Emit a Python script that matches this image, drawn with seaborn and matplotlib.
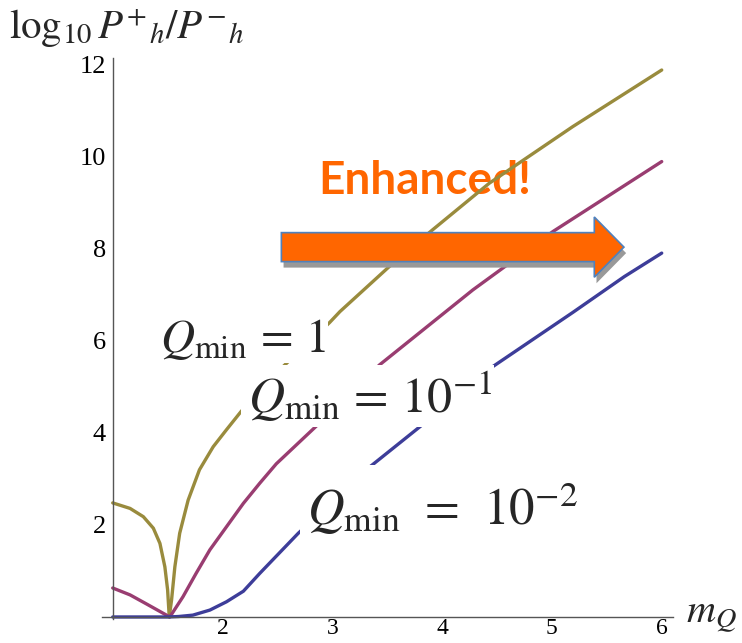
import numpy as np
import pandas as pd
import matplotlib
matplotlib.use("Agg")
import matplotlib.pyplot as plt
import seaborn as sns
from matplotlib.patches import FancyArrow, Rectangle
from matplotlib.ticker import MultipleLocator, FixedLocator

# ---- data ----
gold_x = [1.0, 1.158, 1.279, 1.37, 1.43, 1.475, 1.50, 1.515, 1.536, 1.566, 1.61, 1.687, 1.79, 1.915,
          2.036, 2.17, 2.55, 2.975, 3.07, 3.52, 3.91, 4.43, 5.19, 6.0]
gold_y = [2.48, 2.36, 2.18, 1.93, 1.60, 1.09, 0.59, 0.0, 0.37, 1.09, 1.82, 2.54, 3.20, 3.70,
          4.07, 4.47, 5.44, 6.40, 6.64, 7.62, 8.41, 9.43, 10.66, 11.89]

maroon_x = [1.0, 1.158, 1.31, 1.43, 1.52, 1.64, 1.76, 1.885, 2.036, 2.19, 2.34, 2.49, 2.85, 3.43,
            4.28, 5.01, 6.0]
maroon_y = [0.63, 0.48, 0.28, 0.12, 0.0, 0.44, 0.95, 1.46, 1.96, 2.47, 2.91, 3.33, 4.14, 5.48,
            7.11, 8.38, 9.90]

blue_x = [1.0, 1.3, 1.5, 1.6, 1.73, 1.885, 2.036, 2.19, 2.34, 2.69, 3.34, 3.80, 4.46, 5.19, 5.66, 6.0]
blue_y = [0.0, 0.0, 0.0, 0.01, 0.04, 0.15, 0.33, 0.56, 0.95, 1.82, 3.26, 4.14, 5.44, 6.62, 7.40, 7.91]

series_labels = [r"$Q_{\rm min}\,=\,1$", r"$Q_{\rm min}\,=\,10^{-1}$", r"$Q_{\rm min}\;\,=\;\,10^{-2}$"]
x_ticks = [2, 3, 4, 5, 6]
y_ticks = [2, 4, 6, 8, 10, 12]

colors = ["#998B3D", "#993D71", "#3D3D99"]

sns.set_theme(style="white")
plt.rcParams["font.family"] = ["Liberation Serif", "DejaVu Serif"]
plt.rcParams["mathtext.fontset"] = "stix"

fig = plt.figure(figsize=(7.42, 6.43), dpi=100)
ax = fig.add_axes([0.1371, 0.0369, 0.7695, 0.8728])

df = pd.concat([
    pd.DataFrame({"x": gold_x, "y": gold_y, "s": "gold"}),
    pd.DataFrame({"x": maroon_x, "y": maroon_y, "s": "maroon"}),
    pd.DataFrame({"x": blue_x, "y": blue_y, "s": "blue"}),
])
sns.lineplot(data=df, x="x", y="y", hue="s", palette=dict(zip(["gold", "maroon", "blue"], colors)),
             linewidth=2.4, legend=False, ax=ax, zorder=2, estimator=None, sort=False)

ax.set_xlim(0.9, 6.1)
ax.set_ylim(-0.05, 12.15)
ax.spines["left"].set_position(("data", 1))
ax.spines["bottom"].set_position(("data", 0))
for s in ["top", "right"]:
    ax.spines[s].set_visible(False)
for s in ["left", "bottom"]:
    ax.spines[s].set_color("#555555")
    ax.spines[s].set_linewidth(1.0)
ax.set_xlabel("")
ax.set_ylabel("")
ax.xaxis.set_major_locator(FixedLocator(x_ticks))
ax.yaxis.set_major_locator(FixedLocator(y_ticks))
ax.xaxis.set_minor_locator(MultipleLocator(0.2))
ax.yaxis.set_minor_locator(MultipleLocator(0.5))
ax.tick_params(axis="both", which="major", direction="in", length=5, width=0.8, color="#555555",
               labelcolor="black")
ax.tick_params(axis="both", which="minor", direction="in", length=3, width=0.6, color="#777777")
ax.tick_params(axis="x", which="major", pad=0.5, labelsize=17)
ax.tick_params(axis="y", which="major", pad=5, labelsize=19)
ax.set_facecolor("white")

# white backgrounds behind the labels (data-coordinate boxes: x0, y0, w, h)
label_boxes = [(1.339, 5.52, 1.62, 1.26), (2.166, 4.13, 2.31, 1.35), (2.703, 1.50, 2.55, 1.80)]
for (bx, by, bw, bh) in label_boxes:
    ax.add_patch(Rectangle((bx, by), bw, bh, facecolor="white", edgecolor="none", zorder=3))

ax.text(1.43, 5.76, series_labels[0], fontsize=34, ha="left", va="baseline", zorder=3.5)
ax.text(2.23, 4.43, series_labels[1], fontsize=36, ha="left", va="baseline", zorder=3.5)
ax.text(2.766, 2.0, series_labels[2], fontsize=36.5, ha="left", va="baseline", zorder=3.5)

# "Enhanced!" and arrow
ax.text(3.84, 9.48, "Enhanced!", fontsize=33, fontweight="bold", family="Lato", color="#FF6600",
        ha="center", va="center", zorder=1)
arrow_x0, arrow_y0, arrow_len = 2.536, 8.04, 3.12
shadow = FancyArrow(arrow_x0 + 0.02, arrow_y0 - 0.13, arrow_len, 0, width=0.63, head_width=1.31,
                    head_length=0.27, length_includes_head=True, facecolor="#999999", edgecolor="none",
                    zorder=4)
ax.add_patch(shadow)
arrow = FancyArrow(arrow_x0, arrow_y0, arrow_len, 0, width=0.63, head_width=1.31,
                   head_length=0.27, length_includes_head=True, facecolor="#FF6600", edgecolor="#4F81BD",
                   linewidth=1.2, zorder=5)
ax.add_patch(arrow)

# axis labels
fig.text(0.012, 0.99, r"$\log_{10}P^{+}{}_{h}/P^{-}{}_{h}$", fontsize=29.5, ha="left", va="top")
fig.text(0.925, 0.012, r"$m_Q$", fontsize=29, ha="left", va="bottom")

fig.savefig("out.png", dpi=100, facecolor="white")
